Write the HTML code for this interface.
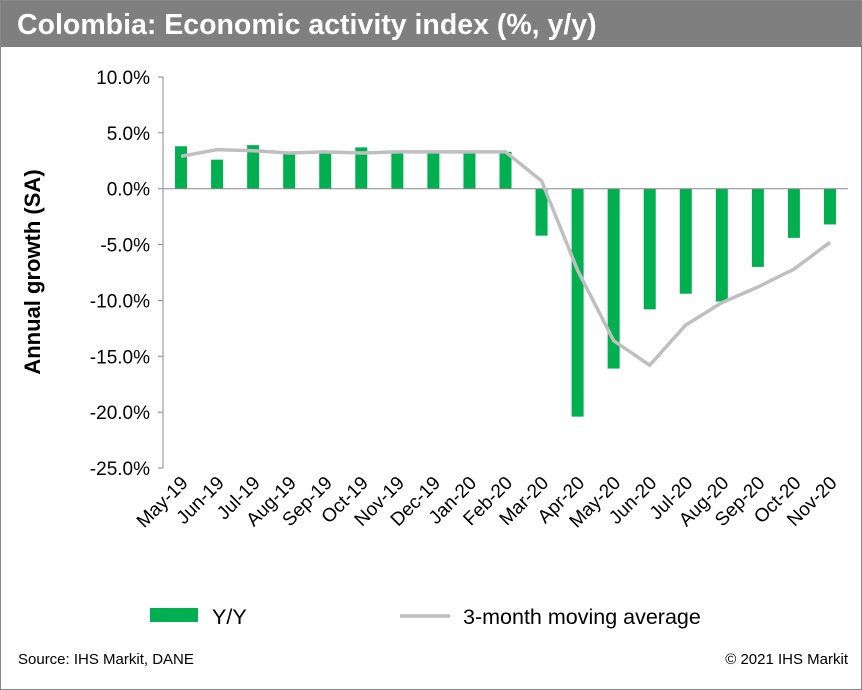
<!DOCTYPE html>
<html><head><meta charset="utf-8"><style>
body{margin:0;width:862px;height:690px;background:#fff;font-family:"Liberation Sans",Arial,sans-serif;overflow:hidden}
.frame{position:absolute;left:0;top:0;width:860px;height:688px;border:1px solid #888}
.title{position:absolute;left:1px;top:1px;width:860px;height:46px;background:#7f7f7f;color:#fff;font-weight:bold;font-size:28.5px;line-height:48px;padding-left:16px;box-sizing:border-box}
</style></head><body>
<div class="frame"></div>
<div class="title">Colombia: Economic activity index (%, y/y)</div>
<svg id="c" width="862" height="690" style="position:absolute;left:0;top:0"></svg>
<script>
const categories=["May-19","Jun-19","Jul-19","Aug-19","Sep-19","Oct-19","Nov-19","Dec-19","Jan-20","Feb-20","Mar-20","Apr-20","May-20","Jun-20","Jul-20","Aug-20","Sep-20","Oct-20","Nov-20"];
const yyValues=[3.8,2.6,3.9,3.2,3.3,3.7,3.3,3.3,3.3,3.3,-4.2,-20.4,-16.1,-10.8,-9.4,-10.1,-7.0,-4.4,-3.2];
const avgValues=[2.9,3.5,3.4,3.2,3.3,3.2,3.3,3.3,3.3,3.3,0.7,-7.3,-13.6,-15.8,-12.2,-10.2,-8.8,-7.2,-4.8];
const yTicks=[10,5,0,-5,-10,-15,-20,-25];
const yTickLabels=["10.0%","5.0%","0.0%","-5.0%","-10.0%","-15.0%","-20.0%","-25.0%"];
const svg=document.getElementById('c');const NS='http://www.w3.org/2000/svg';
const L=163,R=848,T=77,B=468,yMax=10,yMin=-25;
const step=(R-L)/categories.length;
const y=v=>T+(yMax-v)/(yMax-yMin)*(B-T);
const x=i=>L+step*(i+0.5);
function mk(t,a,p){const e=document.createElementNS(NS,t);for(const k in a)e.setAttribute(k,a[k]);(p||svg).appendChild(e);return e;}
mk('line',{x1:L,y1:T,x2:L,y2:B,stroke:'#888'});
yTicks.forEach((v,i)=>{
 const t=mk('line',{x1:L-5,y1:y(v),x2:L,y2:y(v),stroke:'#888'});
 
 const l=mk('text',{x:150,y:y(v)+7,'text-anchor':'end','font-size':19,fill:'#000'});l.textContent=yTickLabels[i];
 
});
const yt=mk('text',{x:0,y:0,transform:'translate(40,272) rotate(-90)','text-anchor':'middle','font-size':22,'font-weight':'bold'});yt.textContent='Annual growth (SA)';

categories.forEach((c,i)=>{
 const v=yyValues[i];const bw=12;
 const b=mk('rect',{x:x(i)-bw/2,y:Math.min(y(v),y(0)),width:bw,height:Math.abs(y(v)-y(0)),fill:'#00b050'});
 
 const l=mk('text',{x:0,y:0,transform:`translate(${x(i)+8},484) rotate(-45)`,'text-anchor':'end','font-size':19});
 l.textContent=c;
 
});
mk('line',{x1:L,y1:y(0),x2:R,y2:y(0),stroke:'#888'});
const ln=mk('polyline',{points:avgValues.map((v,i)=>x(i)+','+y(v)).join(' '),fill:'none',stroke:'#bfbfbf','stroke-width':3.5});

const lg1=mk('rect',{x:150,y:608,width:48,height:14,fill:'#00b050'});
const lt1=mk('text',{x:212,y:624,'font-size':21.5});lt1.textContent='Y/Y';
const lg2=mk('line',{x1:400,y1:616,x2:450,y2:616,stroke:'#bfbfbf','stroke-width':3.5});
const lt2=mk('text',{x:463,y:624,'font-size':21.5});lt2.textContent='3-month moving average';
const s=mk('text',{x:18,y:664,'font-size':15});s.textContent='Source: IHS Markit, DANE';
const cp=mk('text',{x:848,y:664,'font-size':15,'text-anchor':'end'});cp.textContent='© 2021 IHS Markit';
</script>
</body></html>
